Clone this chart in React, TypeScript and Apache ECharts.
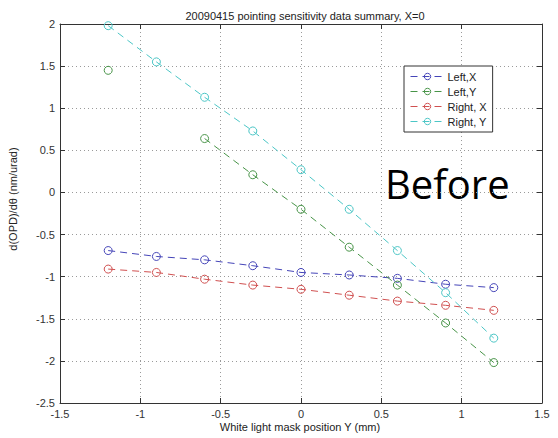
import React, { useEffect, useRef } from "react";
import * as echarts from "echarts";

const xPositions = [-1.2, -0.9, -0.6, -0.3, 0, 0.3, 0.6, 0.9, 1.2];
const leftX = [-0.69, -0.76, -0.8, -0.87, -0.95, -0.98, -1.02, -1.09, -1.13];
const leftY: (number | null)[] = [1.45, null, 0.64, 0.21, -0.2, -0.65, -1.1, -1.55, -2.02];
const rightX = [-0.91, -0.95, -1.03, -1.1, -1.15, -1.22, -1.29, -1.34, -1.4];
const rightY = [1.98, 1.55, 1.13, 0.73, 0.27, -0.2, -0.69, -1.19, -1.73];

const seriesNames = ["Left,X", "Left,Y", "Right, X", "Right, Y"];
const seriesColors = ["#4545b8", "#489448", "#d05050", "#4cc6c6"];
const seriesValues = [leftX, leftY, rightX, rightY];

const titleText = "20090415 pointing sensitivity data summary, X=0";
const xLabel = "White light mask position Y (mm)";
const yLabel = "d(OPD)/dθ (nm/urad)";
const stamp = "Before";

export default function App() {
  const ref = useRef<HTMLDivElement>(null);
  useEffect(() => {
    if (!ref.current) return;
    const chart = echarts.init(ref.current, undefined, { renderer: "svg" });
    const font = "Liberation Sans, Arial, sans-serif";
    const axisLine = { show: true, onZero: false, lineStyle: { color: "#333", width: 1 } };
    const tick = { show: true, inside: true, length: 5, lineStyle: { color: "#333" } };
    const split = { show: true, lineStyle: { color: "#9a9a9a", type: [1, 3] as any, width: 1 } };
    chart.setOption({
      animation: false,
      backgroundColor: "#fff",
      title: {
        text: titleText,
        left: 300,
        textAlign: "center",
        top: 5,
        textStyle: { fontFamily: font, fontSize: 11, fontWeight: "normal", color: "#222" },
      },
      legend: {
        orient: "vertical",
        left: 404,
        top: 66,
        width: 86,
        padding: [5, 6, 5, 6],
        itemGap: 4,
        itemWidth: 34,
        itemHeight: 8,
        itemStyle: { borderWidth: 1 },
        lineStyle: { width: 1 },
        backgroundColor: "#fff",
        borderColor: "#333",
        borderWidth: 1,
        borderRadius: 0,
        textStyle: { fontFamily: font, fontSize: 11, color: "#222", padding: [0, 0, 0, -2] },
        data: seriesNames,
      },
      grid: { left: 60, right: 16, top: 24, bottom: 35, containLabel: false },
      xAxis: [
        {
          type: "value",
          min: -1.5,
          max: 1.5,
          interval: 0.5,
          axisLine,
          axisTick: tick,
          splitLine: split,
          axisLabel: { fontFamily: font, fontSize: 11, color: "#333", margin: 5 },
        },
        {
          type: "value",
          position: "top",
          min: -1.5,
          max: 1.5,
          interval: 0.5,
          axisLine,
          axisTick: tick,
          splitLine: { show: false },
          axisLabel: { show: false },
        },
      ],
      yAxis: [
        {
          type: "value",
          min: -2.5,
          max: 2,
          interval: 0.5,
          axisLine,
          axisTick: tick,
          splitLine: split,
          axisLabel: { fontFamily: font, fontSize: 11, color: "#333", margin: 5 },
        },
        {
          type: "value",
          position: "right",
          min: -2.5,
          max: 2,
          interval: 0.5,
          axisLine,
          axisTick: tick,
          splitLine: { show: false },
          axisLabel: { show: false },
        },
      ],
      series: seriesNames.map((name, i) => ({
        name,
        type: "line",
        xAxisIndex: 0,
        yAxisIndex: 0,
        data: xPositions.map((x, j) => [x, seriesValues[i][j] == null ? "-" : seriesValues[i][j]]),
        symbol: "circle",
        symbolSize: 8,
        showSymbol: true,
        showAllSymbol: true,
        connectNulls: false,
        itemStyle: { color: "rgba(255,255,255,0)", borderColor: seriesColors[i], borderWidth: 1 },
        lineStyle: { color: seriesColors[i], width: 1, type: [7, 5] },
      })),
      graphic: [
        {
          type: "text",
          x: 13,
          y: 199,
          rotation: Math.PI / 2,
          style: {
            text: yLabel,
            fontFamily: font,
            fontSize: 11,
            fill: "#222",
            align: "center",
            verticalAlign: "middle",
          },
        },
        {
          type: "text",
          x: 300,
          y: 427,
          style: {
            text: xLabel,
            fontFamily: font,
            fontSize: 11,
            fill: "#222",
            align: "center",
            verticalAlign: "middle",
          },
        },
        {
          type: "text",
          x: 385,
          y: 183,
          style: {
            text: stamp,
            fontFamily: "Open Sans, sans-serif",
            fontSize: 40,
            fill: "#000",
            align: "left",
            verticalAlign: "middle",
          },
        },
      ],
    });
    return () => chart.dispose();
  }, []);
  return <div ref={ref} style={{ width: 558, height: 438, position: "absolute", left: 0, top: 0 }} />;
}
